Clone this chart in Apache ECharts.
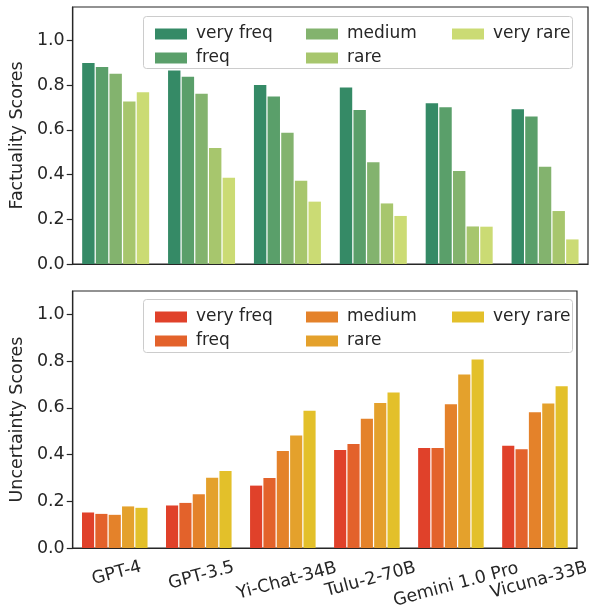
<!DOCTYPE html>
<html>
<head>
<meta charset="utf-8">
<script src="https://cdn.jsdelivr.net/npm/echarts@6/dist/echarts.min.js"></script>
<style>
html,body{margin:0;padding:0;background:#fff;}
#chart{width:591px;height:611px;}
</style>
</head>
<body>
<div id="chart"></div>
<script>
const models = ['GPT-4', 'GPT-3.5', 'Yi-Chat-34B', 'Tulu-2-70B', 'Gemini 1.0 Pro', 'Vicuna-33B'];
const levels = ['very freq', 'freq', 'medium', 'rare', 'very rare'];
const yTicks = [0, 0.2, 0.4, 0.6, 0.8, 1.0];

// Factuality scores (rows = frequency levels, columns = models)
const factVeryFreq = [0.899, 0.866, 0.801, 0.790, 0.719, 0.692];
const factFreq     = [0.881, 0.838, 0.750, 0.689, 0.701, 0.660];
const factMedium   = [0.851, 0.762, 0.587, 0.455, 0.416, 0.435];
const factRare     = [0.727, 0.519, 0.373, 0.271, 0.168, 0.237];
const factVeryRare = [0.768, 0.386, 0.279, 0.215, 0.167, 0.110];

// Uncertainty scores
const uncVeryFreq = [0.152, 0.182, 0.267, 0.419, 0.428, 0.438];
const uncFreq     = [0.146, 0.193, 0.300, 0.445, 0.428, 0.423];
const uncMedium   = [0.142, 0.230, 0.415, 0.553, 0.615, 0.581];
const uncRare     = [0.178, 0.301, 0.482, 0.621, 0.743, 0.618];
const uncVeryRare = [0.172, 0.330, 0.587, 0.666, 0.807, 0.692];

const factData = [factVeryFreq, factFreq, factMedium, factRare, factVeryRare];
const uncData = [uncVeryFreq, uncFreq, uncMedium, uncRare, uncVeryRare];

const greens = ['#358a66', '#5a9f6a', '#83b36e', '#a7c66d', '#cbdb74'];
const oranges = ['#e0412a', '#e3622b', '#e4822a', '#e4a12c', '#e3c02a'];

const TXT = '#262626';
const FONT = 'DejaVu Sans';
const FS = 17.5;

const topName = l => l + ' ';     // legend names for top panel
const botName = l => l + '  ';    // legend names for bottom panel (distinct)

const series = [];
levels.forEach((l, i) => {
  series.push({
    name: topName(l), type: 'bar', xAxisIndex: 0, yAxisIndex: 0,
    data: factData[i], itemStyle: { color: greens[i] },
    barGap: '10%', barCategoryGap: '22%'
  });
});
levels.forEach((l, i) => {
  series.push({
    name: botName(l), type: 'bar', xAxisIndex: 1, yAxisIndex: 1,
    data: uncData[i], itemStyle: { color: oranges[i] },
    barGap: '10%', barCategoryGap: '22%'
  });
});

function legendCol(names, left, top) {
  return {
    orient: 'vertical', left: left, top: top,
    data: names, itemWidth: 32, itemHeight: 11, itemGap: 4,
    icon: 'rect', selectedMode: false,
    textStyle: { fontFamily: FONT, fontSize: 17, color: TXT, lineHeight: 20, padding: [0, 0, 0, 4] },
    formatter: n => n.trim()
  };
}

const legends = [
  legendCol([topName('very freq'), topName('freq')], 150, 19),
  legendCol([topName('medium'), topName('rare')], 301, 19),
  legendCol([topName('very rare')], 447, 19),
  legendCol([botName('very freq'), botName('freq')], 150, 302),
  legendCol([botName('medium'), botName('rare')], 301, 302),
  legendCol([botName('very rare')], 447, 302)
];

function yAxis(gridIndex, max, name) {
  return {
    type: 'value', gridIndex: gridIndex, min: 0, max: max,
    name: name, nameLocation: 'middle', nameGap: 43,
    nameTextStyle: { fontFamily: FONT, fontSize: FS, color: TXT },
    axisLine: { show: true, lineStyle: { color: TXT, width: 1.2 } },
    axisTick: { show: true, length: 6, lineStyle: { color: TXT, width: 1.2 }, customValues: yTicks },
    axisLabel: { fontFamily: FONT, fontSize: FS, color: TXT, margin: 8, customValues: yTicks,
                 formatter: v => v.toFixed(1) },
    splitLine: { show: false }
  };
}

// Rotated x labels: matplotlib aligns the top of each rotated box; emulate by a
// per-label top padding that grows with the label's width.
const measureCtx = document.createElement('canvas').getContext('2d');
measureCtx.font = FS + 'px "' + FONT + '"';
const xRich = {};
models.forEach((m, i) => {
  const w = measureCtx.measureText(m).width;
  xRich['m' + i] = { fontFamily: FONT, fontSize: FS, color: TXT, padding: [Math.round(w * 0.3), 0, 0, 0] };
});

const option = {
  animation: false,
  backgroundColor: '#fff',
  grid: [
    { left: 70, right: 3, top: 7, height: 257, show: true, borderColor: TXT, borderWidth: 1.2 },
    { left: 70, right: 3, top: 291, height: 257, show: true, borderColor: TXT, borderWidth: 1.2 }
  ],
  xAxis: [
    { type: 'category', gridIndex: 0, data: models,
      axisLine: { lineStyle: { color: TXT, width: 1.2 } },
      axisTick: { show: false }, axisLabel: { show: false } },
    { type: 'category', gridIndex: 1, data: models,
      axisLine: { lineStyle: { color: TXT, width: 1.2 } },
      axisTick: { show: false },
      axisLabel: { fontFamily: FONT, fontSize: FS, color: TXT, rotate: 15, interval: 0,
                   align: 'center', verticalAlign: 'middle', margin: 18,
                   formatter: (v, i) => '{m' + i + '|' + v + '}', rich: xRich } }
  ],
  yAxis: [
    yAxis(0, 1.15, 'Factuality Scores'),
    yAxis(1, 1.1, 'Uncertainty Scores')
  ],
  legend: legends,
  graphic: [
    { type: 'rect', shape: { x: 143.5, y: 16.5, width: 429, height: 52, r: 3 },
      style: { fill: 'rgba(255,255,255,0.8)', stroke: '#cccccc', lineWidth: 1 }, z: 0 },
    { type: 'rect', shape: { x: 143.5, y: 299.5, width: 429, height: 53, r: 3 },
      style: { fill: 'rgba(255,255,255,0.8)', stroke: '#cccccc', lineWidth: 1 }, z: 0 }
  ],
  series: series
};

const chart = echarts.init(document.getElementById('chart'), null, { renderer: 'canvas' });
chart.setOption(option);
</script>
</body>
</html>
